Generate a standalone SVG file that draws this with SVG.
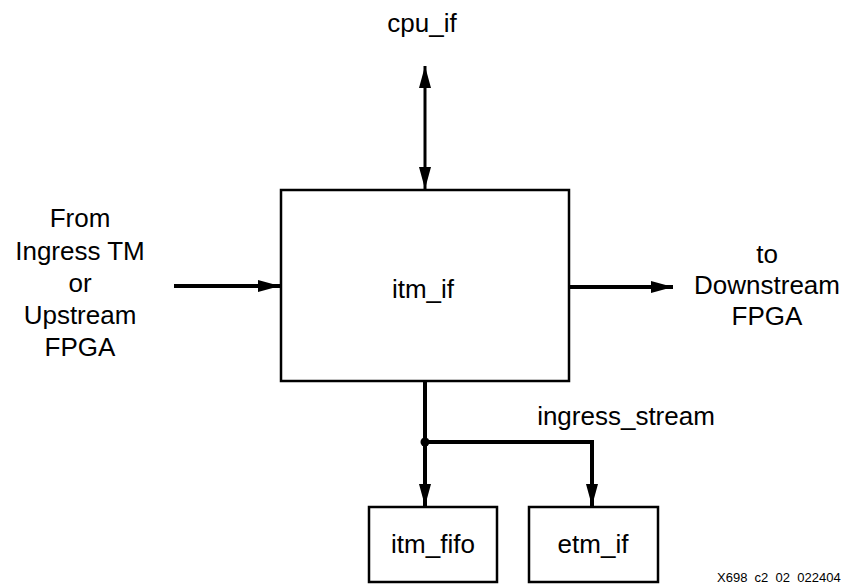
<svg xmlns="http://www.w3.org/2000/svg" width="845" height="584" viewBox="0 0 845 584">
<defs>
<marker id="ah" markerUnits="userSpaceOnUse" markerWidth="22" markerHeight="12" refX="22" refY="6" orient="auto-start-reverse" viewBox="0 0 22 12">
<path d="M0,0 L22,6 L0,12 z" fill="#000"/>
</marker>
</defs>
<style>
.box{fill:#fff;stroke:#000;stroke-width:2.5}
.t{font-family:"Liberation Sans",Arial,Helvetica,sans-serif;font-size:26px;fill:#000;text-anchor:middle}
.w{fill:none;stroke:#000;stroke-width:4}
.thin{fill:none;stroke:#000;stroke-width:3}
</style>
<g id="connectors">
<line class="thin" x1="425" y1="66" x2="425" y2="189" marker-start="url(#ah)" marker-end="url(#ah)"/>
<line class="w" x1="174" y1="286" x2="280" y2="286" marker-end="url(#ah)"/>
<line class="w" x1="570" y1="287" x2="673" y2="287" marker-end="url(#ah)"/>
<line class="w" x1="425" y1="382" x2="425" y2="506" marker-end="url(#ah)"/>
<polyline class="w" points="425,442 592,442 592,506" marker-end="url(#ah)"/>
<circle cx="425" cy="442" r="4.5" fill="#000"/>
</g>
<g id="itm_if">
<rect class="box" x="281" y="190" width="288" height="191"/>
<text class="t" x="423" y="298">itm_if</text>
</g>
<g id="itm_fifo">
<rect class="box" x="369" y="507" width="128" height="75"/>
<text class="t" x="433" y="553">itm_fifo</text>
</g>
<g id="etm_if">
<rect class="box" x="529" y="507" width="129" height="75"/>
<text class="t" x="593" y="553">etm_if</text>
</g>
<g id="labels">
<text class="t" x="422" y="32">cpu_if</text>
<text class="t" x="80" y="227">From</text>
<text class="t" x="80" y="260">Ingress TM</text>
<text class="t" x="80" y="292">or</text>
<text class="t" x="80" y="324">Upstream</text>
<text class="t" x="80" y="356">FPGA</text>
<text class="t" x="767" y="263">to</text>
<text class="t" x="767" y="294">Downstream</text>
<text class="t" x="767" y="325">FPGA</text>
<text class="t" x="626" y="425">ingress_stream</text>
<text x="717" y="582" font-family="Liberation Sans,Arial,sans-serif" font-size="13" fill="#000">X698_c2_02_022404</text>
</g>
</svg>
